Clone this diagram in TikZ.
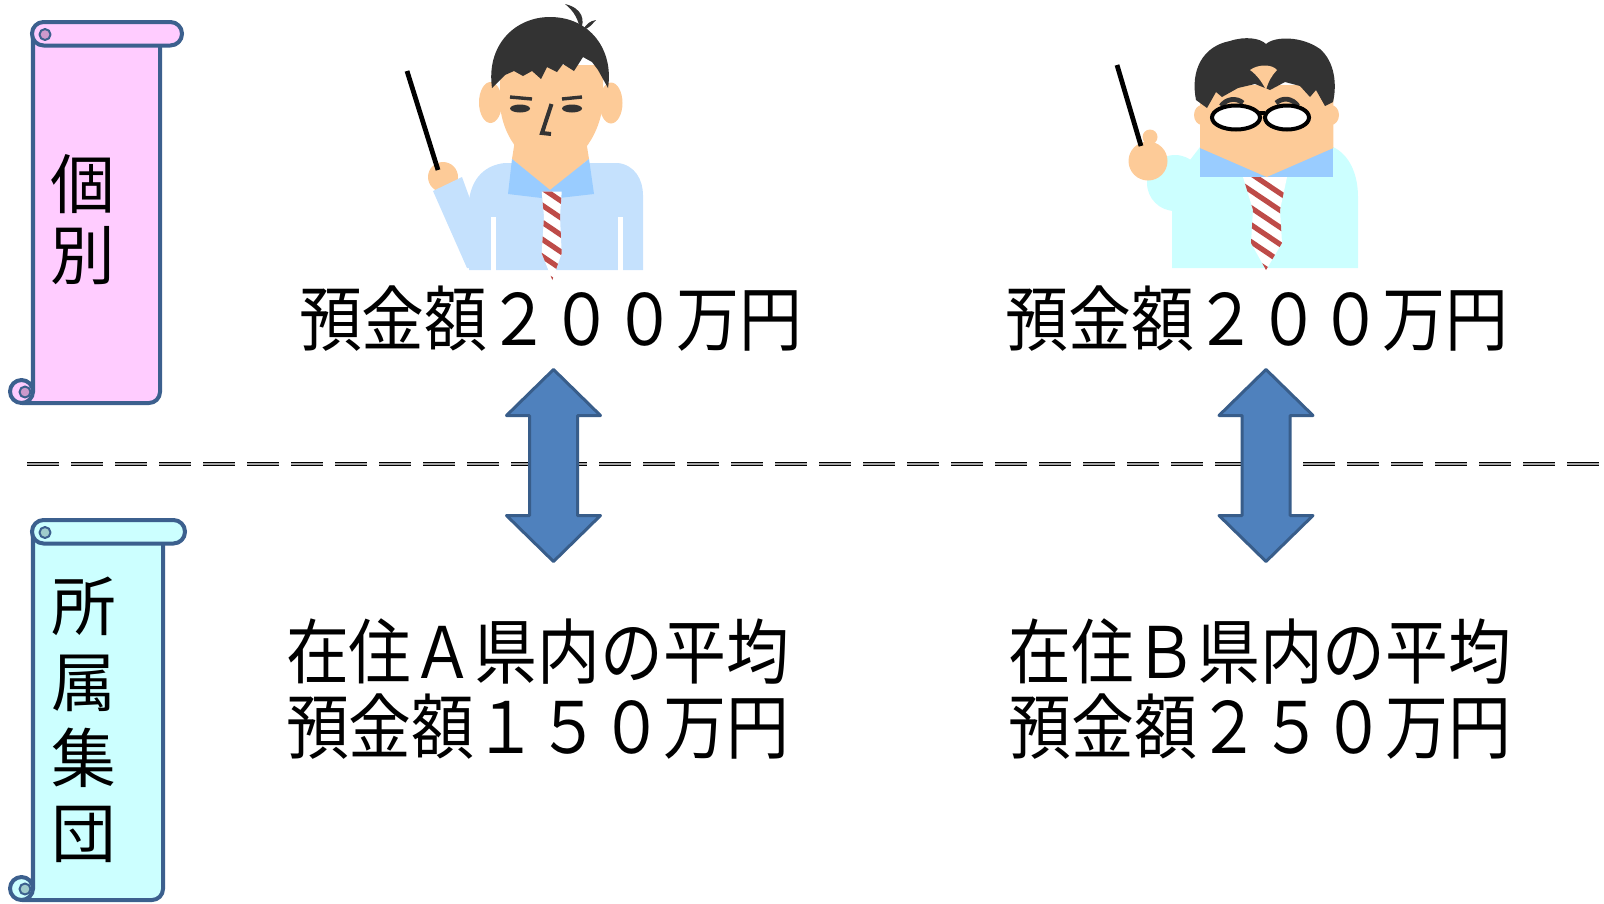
\documentclass[tikz,border=0pt]{standalone}
\usepackage{fontspec}
\newfontfamily\jpfont{Noto Sans CJK JP}
\newfontfamily\jpnarrow{Noto Sans CJK JP}[FakeStretch=0.885]

\definecolor{scrollline}{RGB}{60,96,142}
\definecolor{pinkfill}{RGB}{255,204,255}
\definecolor{pinkcurl}{RGB}{204,153,204}
\definecolor{cyanfill}{RGB}{204,255,255}
\definecolor{cyancurl}{RGB}{160,204,204}
\definecolor{skin}{RGB}{253,203,152}
\definecolor{hair}{RGB}{51,51,51}
\definecolor{shirtA}{RGB}{197,225,253}
\definecolor{shirtB}{RGB}{204,255,255}
\definecolor{collar}{RGB}{153,204,255}
\definecolor{tiered}{RGB}{190,75,72}
\definecolor{arrowfill}{RGB}{79,129,189}
\definecolor{arrowline}{RGB}{56,93,138}

\tikzstyle{scroll} = [draw=scrollline, line width=0.1cm, line join=round]
\tikzstyle{label} = [font={\jpfont\fontsize{46pt}{50.5pt}\selectfont}, align=center, inner sep=0pt]
\tikzstyle{amount} = [font={\jpnarrow\fontsize{50.5pt}{53.3pt}\selectfont}, align=center, inner sep=0pt]
\tikzstyle{bigarrow} = [fill=arrowfill, draw=arrowline, line width=0.075cm, line join=round]
\tikzstyle{stick} = [draw=black, line width=0.12cm]
\tikzstyle{stripe} = [draw=tiered, line width=0.13cm]
\tikzstyle{glass} = [draw=black, fill=white, line width=0.1cm]

\begin{document}
\begin{tikzpicture}[x=0.025cm, y=-0.025cm]
    \useasboundingbox (0,0) rectangle (1604,903);

    % Draw the dividing line
    \draw[line width=0.025cm, double=gray!70, double distance=0.05cm,
          dash pattern=on 0.8cm off 0.3cm] (27,464) -- (1604,464);

    % Draw the two scrolls: top y / bottom y / roll end / body edge / colours
    \foreach \t/\b/\r/\w/\f/\c in {22/403/182/160/pinkfill/pinkcurl,
                                   520/900/185/163/cyanfill/cyancurl} {
        \filldraw[scroll, fill=\f] (33,\t+12) -- (33,\b-11) -- (22,\b)
            -- (\w-11,\b) .. controls (\w-5,\b) and (\w,\b-5) .. (\w,\b-11)
            -- (\w,\t+12) -- cycle;
        \filldraw[scroll, fill=\f] (21.5,\b-11.5) circle (11.5);
        \filldraw[scroll, fill=\c, line width=0.05cm] (25,\b-11) circle (5.5);
        \filldraw[scroll, fill=\f, rounded corners=0.29cm] (32,\t) rectangle (\r,\t+23.5);
        \filldraw[scroll, fill=\c, line width=0.05cm] (45,\t+12.5) circle (5.5);
    }
    \node[label] (kobetsu) at (83,220) {個\\別};
    \node[label, font={\jpfont\fontsize{46pt}{53.8pt}\selectfont}] (shudan) at (84,720) {所\\属\\集\\団};

    % Draw the first man
    \fill[skin] (443,177) circle (15);
    \fill[shirtA] (433,191) -- (462,177) -- (495,268) -- (467,268) -- cycle;
    \draw[stick] (407,71) -- (438,170);
    \fill[shirtA] (469,270) -- (469,200) .. controls (472,178) and (485,165) .. (505,163)
        -- (618,163) .. controls (635,165) and (643,180) .. (643,195) -- (643,270) -- cycle;
    \draw[white, line width=0.125cm] (493,217) -- (493,272);
    \draw[white, line width=0.125cm] (620,217) -- (620,272);
    \fill[skin] (515,140) -- (512,159) -- (550,191) -- (589,159) -- (586,140) -- cycle;
    \fill[collar] (512,159) -- (550,190) -- (589,159) -- (594,194) -- (550,199) -- (508,194) -- cycle;
    \fill[skin] (490.5,102.5) ellipse (11.5 and 20.5);
    \fill[skin] (611,103) ellipse (11.5 and 20.5);
    \fill[skin] (500,65) -- (500,105) .. controls (503,140) and (527,167) .. (551,167)
        .. controls (576,167) and (598,140) .. (603,105) -- (603,65) -- cycle;
    \fill[hair] (492,88) .. controls (486,45) and (515,17) .. (550,17)
        .. controls (590,17) and (614,50) .. (608,88) -- (598,70) -- (592,62) -- (583,57)
        -- (574,71) -- (563,64) -- (557,72) -- (547,67) -- (541,79) -- (532,71) -- (523,76)
        -- (514,71) -- (505,75) -- cycle;
    \fill[hair] (565,4) .. controls (582,8) and (586,20) .. (580,31)
        .. controls (579,20) and (574,11) .. cycle;
    \fill[hair] (583,30) .. controls (586,24) and (590,21) .. (596,20)
        .. controls (592,24) and (590,28) .. cycle;
    \fill[hair] (520,108.5) ellipse (10 and 4);
    \fill[hair] (572,108.5) ellipse (10 and 4);
    \draw[hair, line width=0.085cm] (510,97) -- (532,99);
    \draw[hair, line width=0.085cm] (562,99) -- (582,97);
    \draw[hair, line width=0.1cm] (551.5,104) -- (542,133) -- (551,134);
    \begin{scope}
        \clip (541.7,191.7) -- (561.7,191.7) -- (560,216.7) -- (561.7,253.3) -- (552.3,280)
            -- (541.7,253.3) -- (544,216.7) -- cycle;
        \fill[white] (530,185) rectangle (575,285);
        \foreach \k in {0,...,6}
            \draw[stripe] (530,180+\k*17) -- ++(40,27);
    \end{scope}

    % Draw the second man
    \fill[shirtB] (1172,268) -- (1172,205) -- (1190,160) -- (1200,147) -- (1333,147)
        .. controls (1350,155) and (1358,175) .. (1358,197) -- (1358,268) -- cycle;
    \fill[shirtB] (1175,183) circle (28);
    \fill[skin] (1148,161) circle (19.5);
    \fill[skin] (1150,137) circle (7.5);
    \draw[stick] (1117,65) -- (1141,146);
    \fill[collar] (1200,147) rectangle (1333.3,177);
    \fill[skin] (1202,115) ellipse (8 and 10);
    \fill[skin] (1331,115) ellipse (8 and 10);
    \fill[skin] (1200,85) -- (1200,148) -- (1266.7,177) -- (1333.3,148) -- (1333.3,85) -- cycle;
    \fill[hair] (1196,100) .. controls (1190,70) and (1203,46) .. (1230,41)
        .. controls (1245,36) and (1260,38) .. (1266,44)
        .. controls (1275,36) and (1302,36) .. (1320,49)
        .. controls (1335,62) and (1337,85) .. (1333,102) -- (1325,106) -- (1316,90)
        -- (1310,97) -- (1300,86) -- (1285,82) -- (1270,90) -- (1255,84) -- (1238,88)
        -- (1222,97) -- (1216,92) -- (1207,108) -- cycle;
    \fill[skin] (1250,70) .. controls (1258,64) and (1272,64) .. (1277,70)
        .. controls (1272,75) and (1268,82) .. (1266,90)
        .. controls (1262,82) and (1257,75) .. cycle;
    \draw[hair, line width=0.12cm] (1221,106) .. controls (1226,99) and (1236,97) .. (1243,103);
    \draw[hair, line width=0.12cm] (1276,103) .. controls (1283,97) and (1292,98) .. (1298,106);
    \draw[black, line width=0.1cm] (1258,113) -- (1265,113);
    \filldraw[glass] (1236,117.5) ellipse (24 and 12);
    \filldraw[glass] (1287,117.5) ellipse (22 and 12);
    \begin{scope}
        \clip (1243,177) -- (1287,177) -- (1280,210) -- (1282,243) -- (1266,270)
            -- (1251,243) -- (1253,210) -- cycle;
        \fill[white] (1235,170) rectangle (1295,275);
        \foreach \k in {0,...,6}
            \draw[stripe] (1235,163+\k*17) -- ++(55,37);
    \end{scope}

    % Draw the amounts
    \node[amount] (kojinA) at (550.5,319) {預金額２００万円};
    \node[amount] (kojinB) at (1257,319) {預金額２００万円};
    \node[amount] (heikinA) at (537.5,689) {在住Ａ県内の平均\\預金額１５０万円};
    \node[amount] (heikinB) at (1260,689) {在住Ｂ県内の平均\\預金額２５０万円};

    % Draw the double arrows
    \foreach \cx in {553.5,1266}
        \filldraw[bigarrow] (\cx,369.5) -- ++(47,46) -- ++(-23,0) -- ++(0,100) -- ++(23,0)
            -- (\cx,561.5) -- ++(-47,-46) -- ++(23,0) -- ++(0,-100) -- ++(-23,0) -- cycle;
\end{tikzpicture}
\end{document}
